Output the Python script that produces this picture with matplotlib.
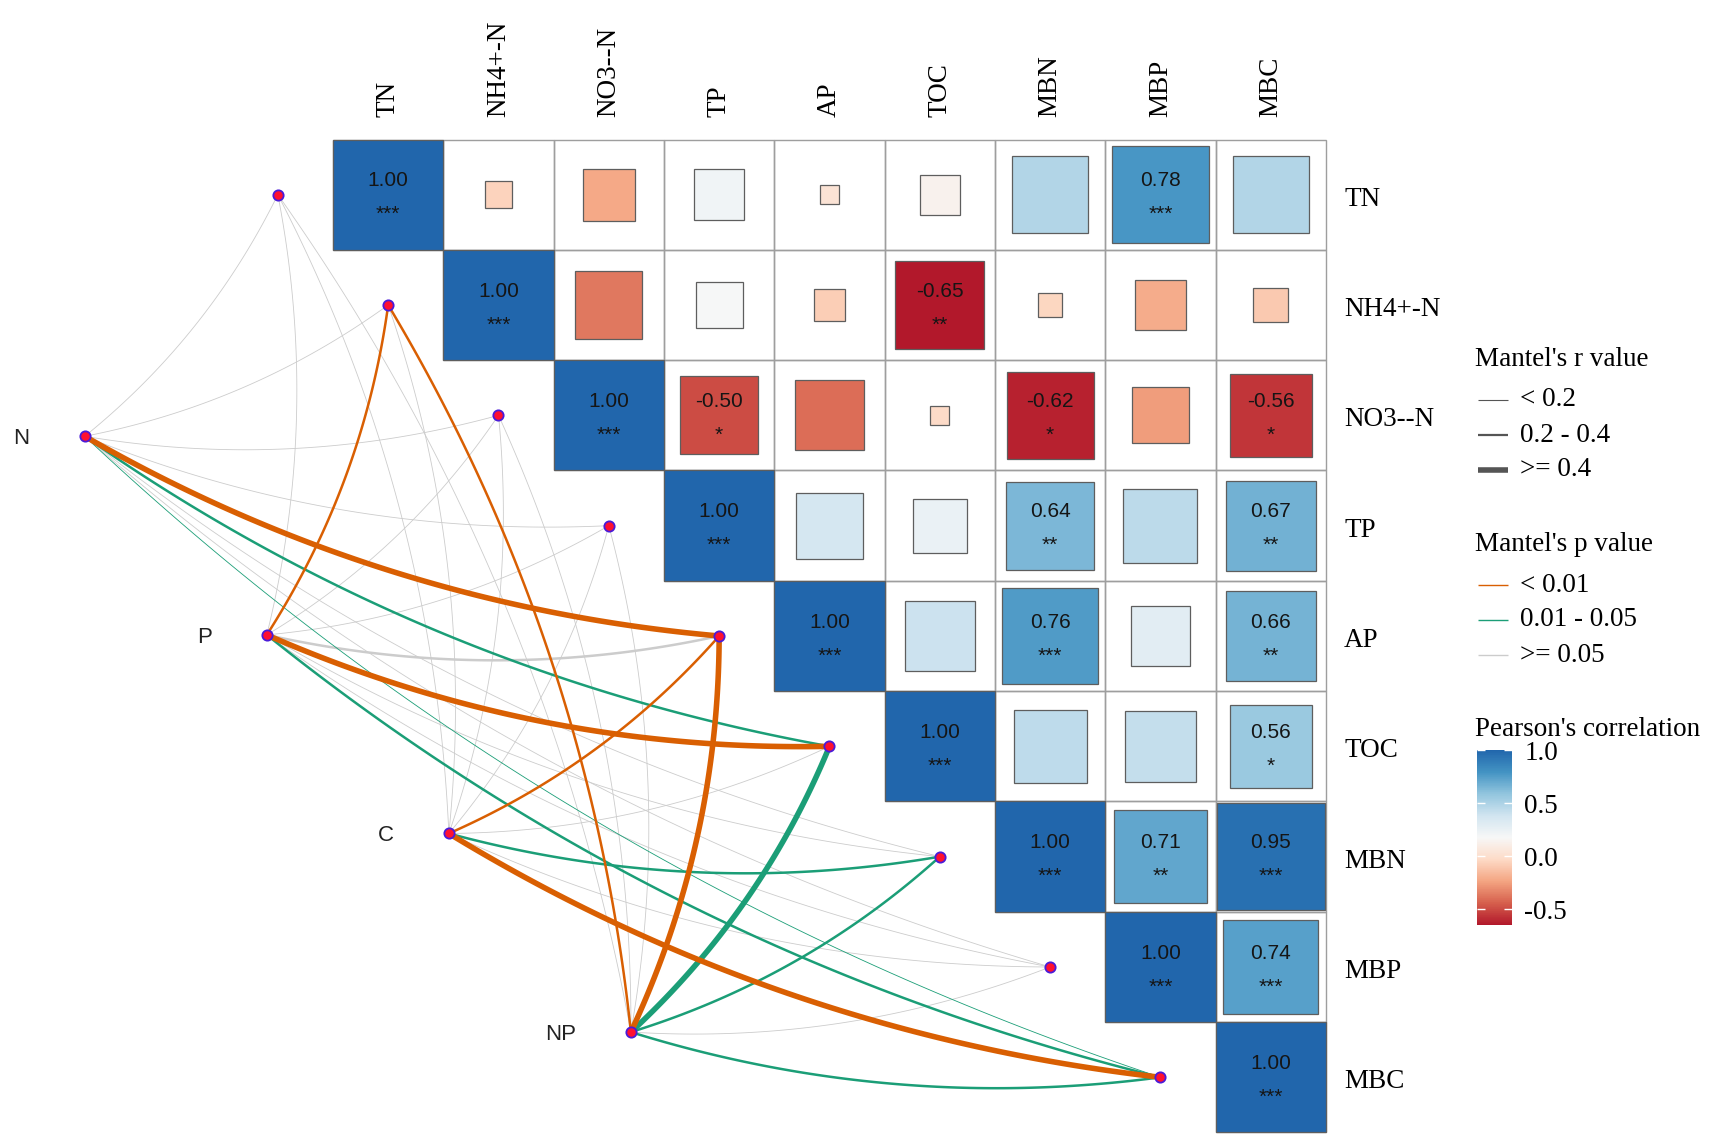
import numpy as np
import matplotlib
matplotlib.use("Agg")
import matplotlib.pyplot as plt
from matplotlib.colors import LinearSegmentedColormap, Normalize
from matplotlib.patches import Rectangle
from matplotlib.lines import Line2D
import matplotlib.cm as cm

plt.rcParams['font.family'] = ['Liberation Serif', 'DejaVu Serif']

# ---- data ----
env_vars = ["TN", "NH4+-N", "NO3--N", "TP", "AP", "TOC", "MBN", "MBP", "MBC"]
spec_groups = ["N", "P", "C", "NP"]

# upper triangle of Pearson r, row by row, starting at the diagonal
r_rows = [
    [1.00, -0.06, -0.22, 0.21, 0.03, 0.13, 0.48, 0.78, 0.48],
    [1.00, -0.37, 0.18, -0.08, -0.65, -0.05, -0.21, -0.10],
    [1.00, -0.50, -0.40, -0.03, -0.62, -0.26, -0.56],
    [1.00, 0.36, 0.24, 0.64, 0.45, 0.67],
    [1.00, 0.40, 0.76, 0.29, 0.66],
    [1.00, 0.44, 0.42, 0.56],
    [1.00, 0.71, 0.95],
    [1.00, 0.74],
    [1.00],
]
sig_rows = [
    ["***", "", "", "", "", "", "", "***", ""],
    ["***", "", "", "", "**", "", "", ""],
    ["***", "*", "", "", "*", "", "*"],
    ["***", "", "", "**", "", "**"],
    ["***", "", "***", "", "**"],
    ["***", "", "", "*"],
    ["***", "**", "***"],
    ["***", "***"],
    ["***"],
]

# Mantel test classes for each group vs env_vars
r_labels = ["< 0.2", "0.2 - 0.4", ">= 0.4"]
p_labels = ["< 0.01", "0.01 - 0.05", ">= 0.05"]
mantel_r_N = [0, 0, 0, 0, 2, 1, 0, 0, 0]
mantel_r_P = [0, 1, 0, 0, 1, 2, 0, 0, 1]
mantel_r_C = [0, 0, 0, 0, 1, 0, 1, 0, 2]
mantel_r_NP = [0, 1, 0, 0, 2, 2, 1, 0, 1]
mantel_p_N = [2, 2, 2, 2, 0, 1, 2, 2, 1]
mantel_p_P = [2, 0, 2, 2, 2, 0, 2, 2, 1]
mantel_p_C = [2, 2, 2, 2, 0, 2, 1, 2, 0]
mantel_p_NP = [2, 0, 2, 2, 0, 1, 1, 2, 1]
mantel_r = [mantel_r_N, mantel_r_P, mantel_r_C, mantel_r_NP]
mantel_p = [mantel_p_N, mantel_p_P, mantel_p_C, mantel_p_NP]

# ---- styles ----
W, H = 1716, 1138
cell = 110.33
x0_px, y0_px = 333, 139.5
link_cols = ['#D95F02', '#1B9E77', '#CCCCCC']
link_lw = [0.6, 1.8, 4.0]
cmap = LinearSegmentedColormap.from_list(
    'rdbu', ['#B2182B', '#D6604D', '#F4A582', '#FDDBC7', '#F7F7F7',
             '#D1E5F0', '#92C5DE', '#4393C3', '#2166AC'])
all_r = [v for row in r_rows for v in row]
norm = Normalize(vmin=min(all_r), vmax=max(all_r))
sans = 'Liberation Sans'
fs = 19.5

fig = plt.figure(figsize=(W / 100, H / 100), dpi=100)
ax = fig.add_axes([0, 0, 1, 1])
ax.set_xlim(-0.5 - x0_px / cell, -0.5 + (W - x0_px) / cell)
ax.set_ylim(-0.5 + (H - y0_px) / cell, -0.5 - y0_px / cell)
ax.axis('off')

# correlation squares
for i, row in enumerate(r_rows):
    for k, r in enumerate(row):
        j = i + k
        ax.add_patch(Rectangle((j - 0.5, i - 0.5), 1, 1, fill=False,
                               ec='#9E9E9E', lw=1.0, zorder=1))
        side = np.sqrt(abs(r))
        ax.add_patch(Rectangle((j - side / 2, i - side / 2), side, side,
                               fc=cmap(norm(r)), ec='#5E5E5E', lw=0.9, zorder=2))
        if sig_rows[i][k]:
            ax.text(j, i - 0.075, f"{r:.2f}", ha='center', va='baseline',
                    fontsize=15, family=sans, color='#151515', zorder=3)
            ax.text(j, i + 0.23, sig_rows[i][k], ha='center', va='baseline',
                    fontsize=15, family=sans, color='#151515', zorder=3)

for j, name in enumerate(env_vars):
    ax.text(j, -0.7, name, rotation=90, ha='center', va='bottom', fontsize=fs)
    ax.text(8.5 + 0.165, j + 0.04, name, ha='left', va='center', fontsize=fs)

# Mantel links
env_xy = [(j - 1, j) for j in range(len(env_vars))]
spec_xy = [(-2.75 + 1.65 * k, 2.19 + 1.8 * k) for k in range(len(spec_groups))]


def curve(p0, p1, bend=0.11, n=80):
    p0 = np.asarray(p0, float)
    p1 = np.asarray(p1, float)
    d = p1 - p0
    ctrl = (p0 + p1) / 2 + bend * np.array([-d[1], d[0]])
    t = np.linspace(0, 1, n)[:, None]
    pts = (1 - t) ** 2 * p0 + 2 * (1 - t) * t * ctrl + t ** 2 * p1
    return pts[:, 0], pts[:, 1]


links = []
for k in range(len(spec_groups)):
    for j in range(len(env_vars)):
        links.append((mantel_p[k][j], mantel_r[k][j], k, j))
links.sort(key=lambda x: -x[0])
for pb, rb, k, j in links:
    xs, ys = curve(spec_xy[k], env_xy[j])
    ax.plot(xs, ys, color=link_cols[pb], lw=link_lw[rb],
            solid_capstyle='butt', zorder=4)

ax.scatter([p[0] for p in env_xy], [p[1] for p in env_xy], s=55,
           c='#FF1030', edgecolors='#4A1BD8', linewidths=1.3, zorder=6)
ax.scatter([p[0] for p in spec_xy], [p[1] for p in spec_xy], s=55,
           c='#FF1030', edgecolors='#4A1BD8', linewidths=1.3, zorder=6)
for (sx, sy), name in zip(spec_xy, spec_groups):
    ax.text(sx - 0.5, sy + 0.02, name, ha='right', va='center', fontsize=16,
            family=sans, color='#222222')

# ---- legends ----
def fx(px):
    return px / W


def fy(py):
    return 1 - py / H


fig.text(fx(1475), fy(360), "Mantel's r value", fontsize=fs, va='center')
for n, (lab, yy) in enumerate(zip(r_labels, [400, 435, 470])):
    fig.add_artist(Line2D([fx(1478), fx(1508)], [fy(yy), fy(yy)],
                          color='#555555', lw=[0.8, 1.6, 4.0][n],
                          solid_capstyle='butt'))
    fig.text(fx(1520), fy(yy), lab, fontsize=fs, va='center')

fig.text(fx(1475), fy(545), "Mantel's p value", fontsize=fs, va='center')
for n, (lab, yy) in enumerate(zip(p_labels, [585, 620, 655])):
    fig.add_artist(Line2D([fx(1478), fx(1508)], [fy(yy), fy(yy)],
                          color=link_cols[n], lw=1.0, solid_capstyle='butt'))
    fig.text(fx(1520), fy(yy), lab, fontsize=fs, va='center')

fig.text(fx(1475), fy(729), "Pearson's correlation", fontsize=fs, va='center')
cax = fig.add_axes([fx(1477), fy(925), 35 / W, 175 / H])
sm = cm.ScalarMappable(norm=norm, cmap=cmap)
cb = fig.colorbar(sm, cax=cax, ticks=[-0.5, 0.0, 0.5, 1.0])
cb.outline.set_visible(False)
cb.set_ticklabels(['-0.5', '0.0', '0.5', '1.0'])
cax.yaxis.set_ticks_position('both')
cax.tick_params(axis='y', direction='in', length=6, width=1, color='white',
                labelsize=fs, pad=9, labelright=True, labelleft=False)

fig.savefig('out.png', dpi=100)
